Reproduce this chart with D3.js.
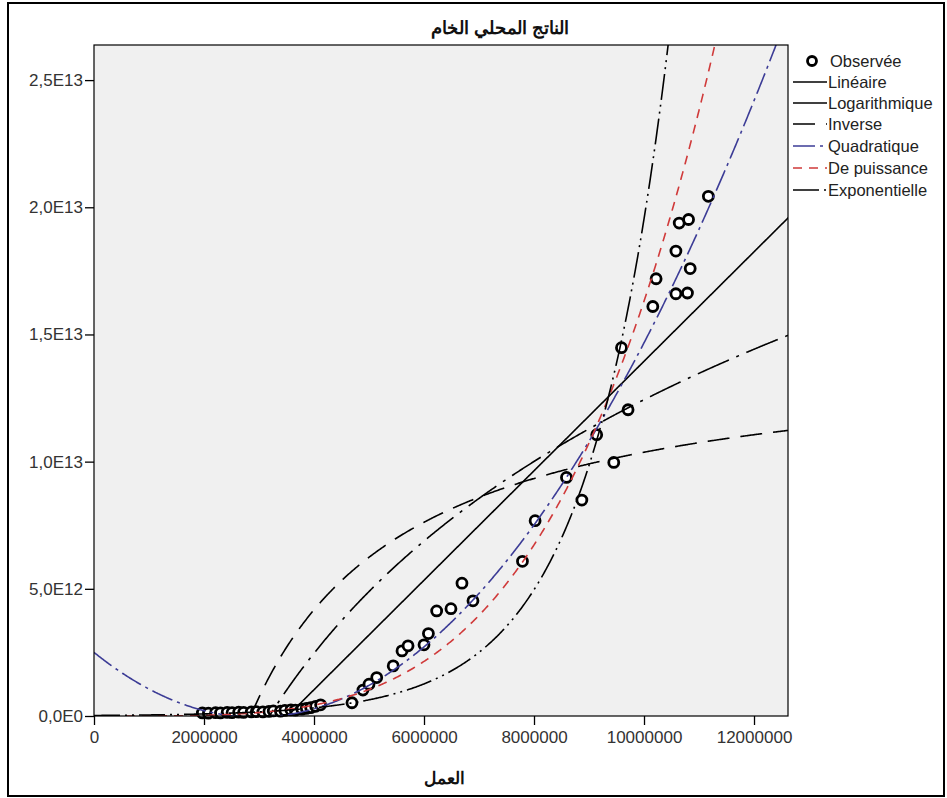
<!DOCTYPE html>
<html>
<head>
<meta charset="utf-8">
<script src="https://cdn.jsdelivr.net/npm/d3@7"></script>
<style>
  html, body { margin: 0; padding: 0; background: #ffffff; }
  svg { display: block; }
  text { font-family: "Liberation Sans", Arial, sans-serif; }
</style>
</head>
<body>
<div id="chart"></div>
<script>
// ---------- DATA ----------
const chartTitle = "الناتج المحلي الخام";
const xAxisTitle = "العمل";

// Observed points: labour (x) and GDP (y)
const labour = [
  1970000, 2080000, 2210000, 2300000, 2420000, 2510000, 2630000, 2720000,
  2860000, 2950000, 3070000, 3180000, 3260000, 3390000, 3470000, 3580000,
  3660000, 3780000, 3860000, 3940000, 4030000, 4120000,
  4690000, 4890000, 5000000, 5140000, 5440000, 5600000, 5710000, 6000000,
  6080000, 6230000, 6490000, 6690000, 6890000, 7790000, 8020000, 8590000,
  8870000, 9140000, 9450000, 9590000, 9710000, 10160000, 10220000, 10580000,
  10790000, 10840000, 10580000, 10640000, 10810000, 11170000
];
const gdp = [
  0.12e12, 0.11e12, 0.13e12, 0.12e12, 0.14e12, 0.13e12, 0.15e12, 0.14e12,
  0.16e12, 0.17e12, 0.16e12, 0.18e12, 0.20e12, 0.19e12, 0.22e12, 0.24e12,
  0.23e12, 0.27e12, 0.30e12, 0.33e12, 0.38e12, 0.44e12,
  0.52e12, 1.02e12, 1.25e12, 1.51e12, 1.97e12, 2.56e12, 2.76e12, 2.80e12,
  3.24e12, 4.13e12, 4.22e12, 5.22e12, 4.53e12, 6.08e12, 7.68e12, 9.38e12,
  8.49e12, 11.06e12, 9.97e12, 14.48e12, 12.04e12, 16.10e12, 17.19e12, 16.60e12,
  16.63e12, 17.59e12, 18.28e12, 19.38e12, 19.52e12, 20.43e12
];

// Fitted models (coefficients)
const linearCoef      = [-7.575e12, 2.152e6];          // b0 + b1*x
const logCoef         = [-162.93e12, 10.88e12];        // b0 + b1*ln(x)
const inverseCoef     = [14.50e12, -4.13e19];          // b0 + b1/x
const quadraticCoef   = [2.5e12, -1.735e6, 0.2952];    // b0 + b1*x + b2*x^2
const powerCoef       = [2.645e-15, 3.97];             // b0 * x^b1
const exponentialCoef = [2.07e10, 0.685e-6];           // b0 * exp(b1*x)

const legendLabels = ["Observée", "Linéaire", "Logarithmique", "Inverse",
                      "Quadratique", "De puissance", "Exponentielle"];

const xTicks = [0, 2000000, 4000000, 6000000, 8000000, 10000000, 12000000];
const xTickLabels = ["0", "2000000", "4000000", "6000000", "8000000", "10000000", "12000000"];
const yTicks = [0, 5e12, 10e12, 15e12, 20e12, 25e12];
const yTickLabels = ["0,0E0", "5,0E12", "1,0E13", "1,5E13", "2,0E13", "2,5E13"];

// ---------- LAYOUT ----------
const W = 947, H = 798;
const plot = { left: 94, right: 788, top: 45, bottom: 716 };

const svg = d3.select("#chart").append("svg")
  .attr("width", W).attr("height", H);

// outer frame
svg.append("rect")
  .attr("x", 8).attr("y", 3).attr("width", 936).attr("height", 793)
  .attr("fill", "#ffffff").attr("stroke", "#000").attr("stroke-width", 2);

const x = d3.scaleLinear().domain([0, 12.618e6]).range([plot.left, plot.right]);
const y = d3.scaleLinear().domain([0, 26.38e12]).range([plot.bottom, plot.top]);

// plot background
svg.append("rect")
  .attr("x", plot.left).attr("y", plot.top)
  .attr("width", plot.right - plot.left).attr("height", plot.bottom - plot.top)
  .attr("fill", "#f0f0f0");

svg.append("defs").append("clipPath").attr("id", "clip")
  .append("rect")
  .attr("x", plot.left).attr("y", plot.top)
  .attr("width", plot.right - plot.left).attr("height", plot.bottom - plot.top);

// ---------- AXES ----------
const xAxis = d3.axisBottom(x).tickValues(xTicks)
  .tickFormat((d, i) => xTickLabels[i]).tickSize(9).tickPadding(6);
const gx = svg.append("g").attr("transform", `translate(0,${plot.bottom})`).call(xAxis);
gx.select(".domain").remove();
gx.selectAll("line").attr("stroke", "#000").attr("stroke-width", 1.3);
gx.selectAll("text").attr("font-size", 17).attr("fill", "#333")
  .attr("font-family", "'Liberation Sans', Arial, sans-serif");

const yAxis = d3.axisLeft(y).tickValues(yTicks)
  .tickFormat((d, i) => yTickLabels[i]).tickSize(9).tickPadding(2);
const gy = svg.append("g").attr("transform", `translate(${plot.left},0)`).call(yAxis);
gy.select(".domain").remove();
gy.selectAll("line").attr("stroke", "#000").attr("stroke-width", 1.3);
gy.selectAll("text").attr("font-size", 17).attr("fill", "#333")
  .attr("font-family", "'Liberation Sans', Arial, sans-serif");

// ---------- POINTS ----------
const pts = labour.map((v, i) => ({ x: v, y: gdp[i] }));
svg.append("g").selectAll("circle").data(pts).join("circle")
  .attr("cx", d => x(d.x)).attr("cy", d => y(d.y)).attr("r", 5)
  .attr("fill", "#ffffff").attr("stroke", "#000").attr("stroke-width", 2.8);

// ---------- CURVES ----------
const models = [
  { f: v => linearCoef[0] + linearCoef[1] * v, color: "#000", dash: null, x0: 1 },
  { f: v => logCoef[0] + logCoef[1] * Math.log(v), color: "#000", dash: "34,8,3,8", x0: 1e6 },
  { f: v => inverseCoef[0] + inverseCoef[1] / v, color: "#000", dash: "22,11", x0: 1e6 },
  { f: v => quadraticCoef[0] + quadraticCoef[1] * v + quadraticCoef[2] * v * v, color: "#3c3c96", dash: "22,5,3,5", x0: 0 },
  { f: v => powerCoef[0] * Math.pow(v, powerCoef[1]), color: "#d03a3a", dash: "9,7", x0: 0 },
  { f: v => exponentialCoef[0] * Math.exp(exponentialCoef[1] * v), color: "#000", dash: "26,5,2,5,2,5", x0: 0 }
];

const gCurves = svg.append("g").attr("clip-path", "url(#clip)");
models.forEach(m => {
  const xs = d3.range(0, 801).map(i => m.x0 + (12.7e6 - m.x0) * i / 800);
  const data = xs.map(v => ({ x: v, y: Math.max(-5e13, Math.min(2e14, m.f(v))) }));
  const line = d3.line().x(d => x(d.x)).y(d => y(d.y));
  gCurves.append("path").datum(data)
    .attr("d", line).attr("fill", "none")
    .attr("stroke", m.color).attr("stroke-width", 1.6)
    .attr("stroke-dasharray", m.dash);
});

// plot frame
svg.append("rect")
  .attr("x", plot.left).attr("y", plot.top)
  .attr("width", plot.right - plot.left).attr("height", plot.bottom - plot.top)
  .attr("fill", "none").attr("stroke", "#000").attr("stroke-width", 1.2);

// ---------- TITLES ----------
svg.append("text").attr("x", 500).attr("y", 34).attr("text-anchor", "middle")
  .attr("font-family", "'DejaVu Sans', sans-serif").attr("font-weight", "bold")
  .attr("font-size", 18).attr("fill", "#111").attr("direction", "rtl")
  .text(chartTitle);

svg.append("text").attr("x", 444).attr("y", 784).attr("text-anchor", "middle")
  .attr("font-family", "'DejaVu Sans', sans-serif").attr("font-weight", "bold")
  .attr("font-size", 17).attr("fill", "#111").attr("direction", "rtl")
  .text(xAxisTitle);

// ---------- LEGEND ----------
const legendY = [61, 82, 103, 124, 146, 168, 190];
const legendStyles = [null].concat(models);
const gl = svg.append("g");
legendLabels.forEach((lab, i) => {
  const yy = legendY[i];
  if (i === 0) {
    gl.append("circle").attr("cx", 812).attr("cy", yy).attr("r", 4.5)
      .attr("fill", "#fff").attr("stroke", "#000").attr("stroke-width", 2.8);
  } else {
    const m = legendStyles[i];
    gl.append("line").attr("x1", 793).attr("x2", 827).attr("y1", yy).attr("y2", yy)
      .attr("stroke", m.color).attr("stroke-width", 1.6)
      .attr("stroke-dasharray", m.dash);
  }
  gl.append("text").attr("x", i === 0 ? 830 : 828).attr("y", yy + 6)
    .attr("font-size", 16.5).attr("fill", "#222").text(lab);
});
</script>
</body>
</html>
